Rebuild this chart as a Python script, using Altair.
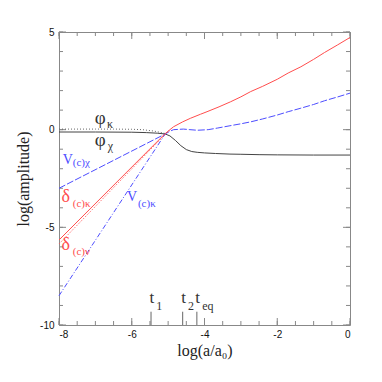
import altair as alt
import pandas as pd

W, H = 291, 293

# ---- curve data ----
phik_x = [-8, -7, -6.5, -6, -5.7, -5.4, -5.2, -5.08]
phik_y = [0.03, 0.03, 0.03, 0.02, 0.0, -0.07, -0.14, -0.2]

phic_x = [-8, -7, -6, -5.6, -5.3, -5.08, -4.95, -4.8, -4.65, -4.5, -4.35, -4.2, -4.0, -3.7, -3.3, -3.0, -2.5, -2.0, -1.0, 0]
phic_y = [-0.12, -0.12, -0.13, -0.15, -0.18, -0.22, -0.32, -0.55, -0.82, -1.02, -1.12, -1.16, -1.19, -1.22, -1.25, -1.26, -1.28, -1.29, -1.3, -1.3]

dk_x = [-8, -5.08, -4.95, -4.85, -4.6, -4.39, -4.11, -3.93, -3.6, -3.28, -3.0, -2.73, -2.4, -2.0, -1.7, -1.35, -1.0, -0.7, -0.35, 0]
dk_y = [-5.65, -0.2, 0.0, 0.15, 0.4, 0.58, 0.79, 0.92, 1.17, 1.43, 1.68, 1.95, 2.22, 2.58, 2.9, 3.22, 3.6, 3.95, 4.33, 4.72]

dn_x = [-8, -5.08, -4.95]
dn_y = [-5.85, -0.24, 0.0]

vchi_x = [-8, -5.08, -4.95, -4.85, -4.58, -4.4, -4.2, -3.9, -3.65, -3.3, -3.0, -2.73, -2.4, -2.0, -1.7, -1.35, -1.0, -0.7, -0.35, 0]
vchi_y = [-3.0, -0.22, -0.08, 0.0, 0.03, 0.0, -0.03, 0.0, 0.08, 0.2, 0.3, 0.4, 0.55, 0.75, 0.92, 1.1, 1.29, 1.48, 1.67, 1.87]

vk_x = [-8, -5.08]
vk_y = [-8.5, -0.22]

# ---- annotation data ----
lab_text = ["φ", "κ", "φ", "χ", "V", "(c)χ", "δ", "(c)κ", "V", "(c)κ", "δ", "(c)ν"]
lab_x = [-7.02, -6.68, -7.02, -6.66, -7.90, -7.62, -7.93, -7.62, -6.13, -5.83, -7.93, -7.62]
lab_y = [0.58, 0.28, -0.53, -0.82, -1.55, -1.71, -3.43, -3.80, -3.43, -3.80, -5.90, -6.25]
lab_col = ["#333333", "#333333", "#333333", "#333333", "#4d4dff", "#4d4dff",
           "#ff4d4d", "#ff4d4d", "#4d4dff", "#4d4dff", "#ff4d4d", "#ff4d4d"]
lab_fs = [19, 12, 19, 12, 14, 11, 18, 11, 14, 11, 18, 11]

t_pos = [-5.47, -4.60, -4.21]
t_sub = ["1", "2", "eq"]

xminor = [-8 + 0.5 * i for i in range(17)]
xmajor = [-8, -6, -4, -2, 0]
yminor = list(range(-10, 6))
ymajor = [-10, -5, 0, 5]

xs = alt.Scale(domain=[-8, 0], nice=False, zero=False)
ys = alt.Scale(domain=[-10, 5], nice=False, zero=False)

def X(f):
    return alt.X(f, scale=xs)

def Y(f):
    return alt.Y(f, scale=ys)

def curve(xv, yv, color, dash=None):
    df = pd.DataFrame({"x": xv, "y": yv})
    kw = dict(color=color, strokeWidth=1)
    if dash:
        kw["strokeDash"] = dash
    return alt.Chart(df).mark_line(**kw).encode(x=X("x:Q"), y=Y("y:Q"))

# main layer carrying the axes (invisible points)
base = alt.Chart(pd.DataFrame({"x": [-8, 0], "y": [-10, 5]})).mark_point(opacity=0).encode(
    x=alt.X("x:Q", scale=xs, axis=alt.Axis(
        values=xmajor, labelPadding=4,
        title="log(a/a₀)", titlePadding=3)),
    y=alt.Y("y:Q", scale=ys, axis=alt.Axis(
        values=ymajor, labelPadding=5,
        title="log(amplitude)", titlePadding=8)),
)

TC = "#888888"

def xticks(vals, ln):
    df = pd.DataFrame({"v": vals})
    b = alt.Chart(df).mark_rule(color=TC, strokeWidth=1)
    bot = b.encode(x=X("v:Q"), y=alt.value(H), y2=alt.value(H - ln))
    top = b.encode(x=X("v:Q"), y=alt.value(0), y2=alt.value(ln))
    return [bot, top]

def yticks(vals, ln):
    df = pd.DataFrame({"v": vals})
    b = alt.Chart(df).mark_rule(color=TC, strokeWidth=1)
    left = b.encode(y=Y("v:Q"), x=alt.value(0), x2=alt.value(ln))
    right = b.encode(y=Y("v:Q"), x=alt.value(W), x2=alt.value(W - ln))
    return [left, right]

ticks = xticks(xminor, 4) + xticks(xmajor, 7) + yticks(yminor, 4) + yticks(ymajor, 7)

# t markers
tdf = pd.DataFrame({"x": t_pos, "y0": [-10] * 3, "y1": [-9.32] * 3, "sub": t_sub,
                    "t": ["t"] * 3, "ty": [-8.88] * 3, "sy": [-9.23] * 3,
                    "sx": [p + 0.146 for p in t_pos]})
trules = alt.Chart(tdf).mark_rule(color="#666666", strokeWidth=1).encode(
    x=X("x:Q"), y=Y("y0:Q"), y2="y1:Q")
tt = alt.Chart(tdf).mark_text(align="left", baseline="alphabetic", font="Liberation Serif",
                              fontSize=17, color="#333333", dx=-1.5).encode(
    x=X("x:Q"), y=Y("ty:Q"), text="t:N")
ts = alt.Chart(tdf).mark_text(align="left", baseline="alphabetic", font="Liberation Serif",
                              fontSize=12, color="#333333").encode(
    x=X("sx:Q"), y=Y("sy:Q"), text="sub:N")

ldf = pd.DataFrame({"text": lab_text, "x": lab_x, "y": lab_y, "c": lab_col, "fs": lab_fs})
labels = alt.Chart(ldf).mark_text(align="left", baseline="middle", font="Liberation Serif").encode(
    x=X("x:Q"), y=Y("y:Q"),
    text="text:N", color=alt.Color("c:N", scale=None), size=alt.Size("fs:Q", scale=None))

RED = "#ff4d4d"
BLUE = "#4d4dff"
BLK = "#444444"

curves = [
    curve(phik_x, phik_y, "#666666", [1, 2]),
    curve(phic_x, phic_y, BLK),
    curve(vchi_x, vchi_y, BLUE, [7, 2]),
    curve(vk_x, vk_y, BLUE, [5, 2, 1, 2]),
    curve(dn_x, dn_y, RED, [1, 1.5]),
    curve(dk_x, dk_y, RED),
]

chart = alt.layer(base, *ticks, trules, tt, ts, *curves, labels).properties(
    width=W, height=H,
    autosize=alt.AutoSizeParams(type="none"),
    padding={"left": 51, "top": 24, "right": 24, "bottom": 50},
).configure_view(stroke="#888888", strokeWidth=1).configure_axis(
    ticks=False, domain=False, grid=False,
    labelExpr="'' + datum.value", labelFont="Liberation Sans", labelFontSize=10,
    labelColor="#111111", titleFont="Liberation Serif", titleFontSize=16,
    titleFontWeight="normal", titleColor="#222222",
)

chart.save("out.html", embed_options={"renderer": "svg", "actions": False})
